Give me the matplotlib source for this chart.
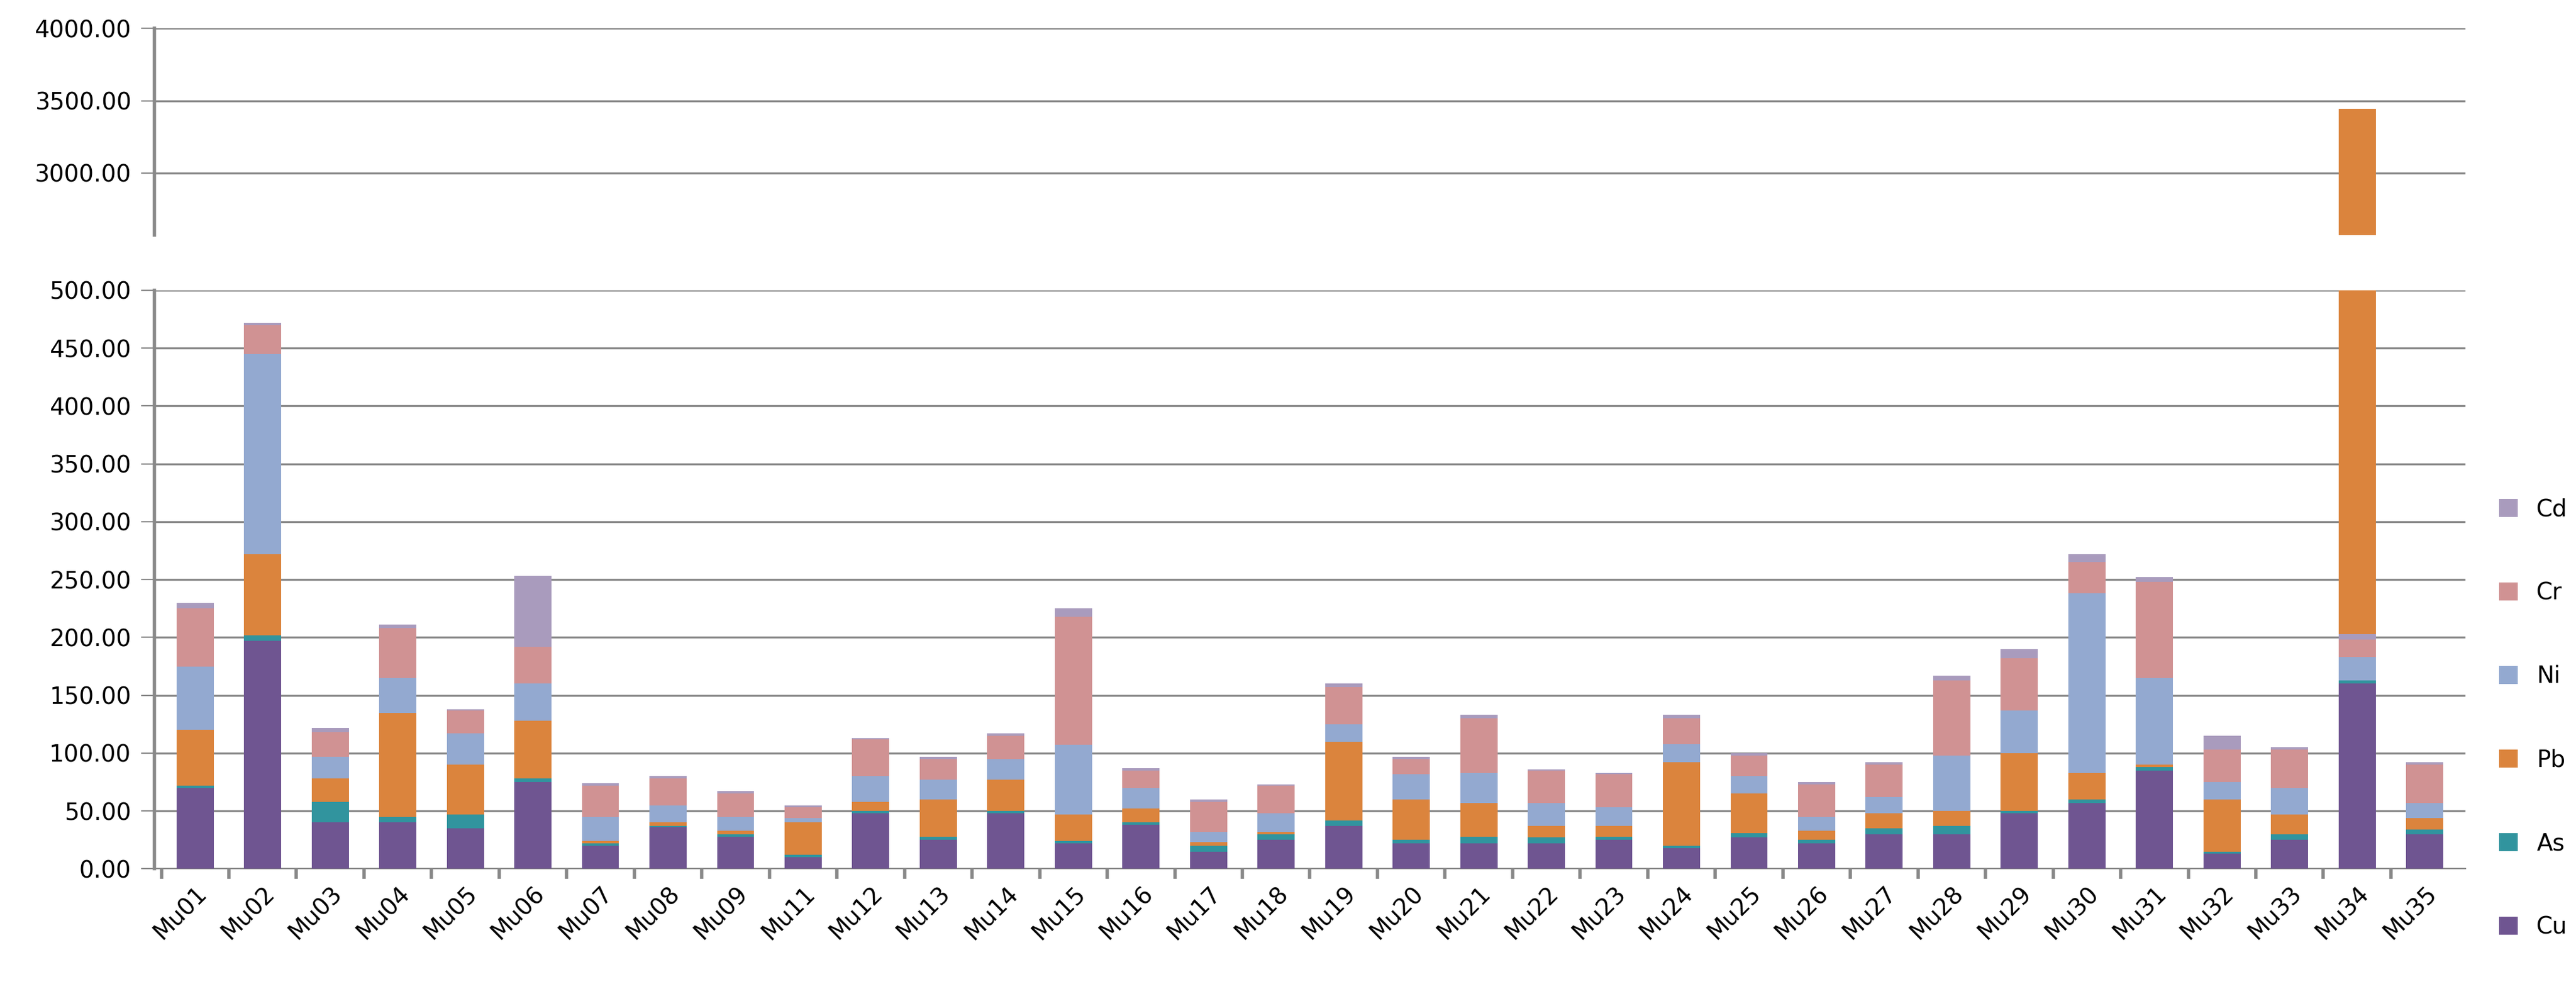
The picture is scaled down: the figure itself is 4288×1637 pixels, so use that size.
import matplotlib
matplotlib.use("Agg")
import matplotlib.pyplot as plt
import numpy as np

sites = ["Mu01", "Mu02", "Mu03", "Mu04", "Mu05", "Mu06", "Mu07", "Mu08", "Mu09", "Mu11",
         "Mu12", "Mu13", "Mu14", "Mu15", "Mu16", "Mu17", "Mu18", "Mu19", "Mu20", "Mu21",
         "Mu22", "Mu23", "Mu24", "Mu25", "Mu26", "Mu27", "Mu28", "Mu29", "Mu30", "Mu31",
         "Mu32", "Mu33", "Mu34", "Mu35"]

# segment values
cu = [70, 197, 40, 40, 35, 75, 20, 36, 28, 10, 48, 25, 48, 22, 38, 15, 25, 37, 22, 22,
      22, 25, 18, 27, 22, 30, 30, 48, 57, 85, 13, 25, 160, 30]
As = [2, 5, 18, 5, 12, 3, 2, 1, 2, 2, 2, 3, 2, 2, 2, 5, 5, 5, 3, 6,
      5, 3, 2, 4, 3, 5, 7, 2, 3, 3, 2, 5, 3, 4]
pb = [48, 70, 20, 90, 43, 50, 2, 3, 3, 28, 8, 32, 27, 23, 12, 3, 2, 68, 35, 29,
      10, 9, 72, 34, 8, 13, 13, 50, 23, 2, 45, 17, 3240, 10]
ni = [55, 173, 19, 30, 27, 32, 21, 15, 12, 4, 22, 17, 18, 60, 18, 9, 16, 15, 22, 26,
      20, 16, 16, 15, 12, 14, 48, 37, 155, 75, 15, 23, 20, 13]
cr = [50, 25, 21, 43, 20, 32, 27, 23, 20, 9, 32, 18, 20, 111, 15, 26, 24, 32, 13, 47,
      28, 29, 22, 18, 28, 28, 65, 45, 27, 83, 28, 33, 15, 33]
cd = [5, 2, 4, 3, 1, 61, 2, 2, 2, 2, 1, 2, 2, 7, 2, 2, 1, 3, 2, 3,
      1, 1, 3, 2, 2, 2, 4, 8, 7, 4, 12, 2, 5, 2]

names = ["Cu", "As", "Pb", "Ni", "Cr", "Cd"]
series = [cu, As, pb, ni, cr, cd]
colors = ["#6F5591", "#31949E", "#DB843D", "#93A9D0", "#D09293", "#A99BBD"]

fig = plt.figure(figsize=(21.44, 8.185), dpi=200)
ax_top = fig.add_axes([0.060, 0.761, 0.897, 0.210])
ax_bot = fig.add_axes([0.060, 0.117, 0.897, 0.588])

x = np.arange(len(sites))
w = 0.55
for ax in (ax_top, ax_bot):
    for i in range(len(sites)):
        # bars that run past the break get their Pb segment drawn last
        order = [0, 1, 2, 3, 4, 5] if pb[i] < 1000 else [0, 1, 3, 4, 5, 2]
        bottom = 0
        for k in order:
            v = series[k][i]
            ax.bar(x[i], v, w, bottom=bottom, color=colors[k], zorder=3,
                   label=names[k] if i == 0 else None)
            bottom += v
    ax.set_xlim(-0.6, len(sites) - 0.4)
    ax.yaxis.grid(True, color="#888888", linewidth=1.2, zorder=0)
    ax.yaxis.set_major_formatter(matplotlib.ticker.FormatStrFormatter("%.2f"))
    ax.tick_params(axis="y", labelsize=14, length=8, color="#888888", pad=6)
    for s in ("top", "right"):
        ax.spines[s].set_visible(False)
    ax.spines["left"].set_color("#888888")
    ax.spines["left"].set_linewidth(2)
    ax.spines["bottom"].set_color("#888888")

ax_top.set_ylim(2570, 4000)
ax_top.set_yticks([3000, 3500, 4000])
ax_top.spines["bottom"].set_visible(False)
ax_top.set_xticks([])

ax_bot.set_ylim(0, 500)
ax_bot.set_yticks(np.arange(0, 501, 50))
ax_bot.set_xticks(x - 0.5, minor=True)
ax_bot.set_xticks(x)
ax_bot.set_xticklabels(sites, rotation=45, ha="right", rotation_mode="anchor", fontsize=14)
ax_bot.tick_params(axis="x", which="major", length=0, pad=8)
ax_bot.tick_params(axis="x", which="minor", length=6, color="#888888", width=2)

h, l = ax_bot.get_legend_handles_labels()
fig.legend(h[::-1], l[::-1], loc="center left", bbox_to_anchor=(0.962, 0.27),
           frameon=False, fontsize=14, handlelength=0.8, handleheight=0.8,
           labelspacing=2.6)

fig.savefig("out.png", dpi=200)
